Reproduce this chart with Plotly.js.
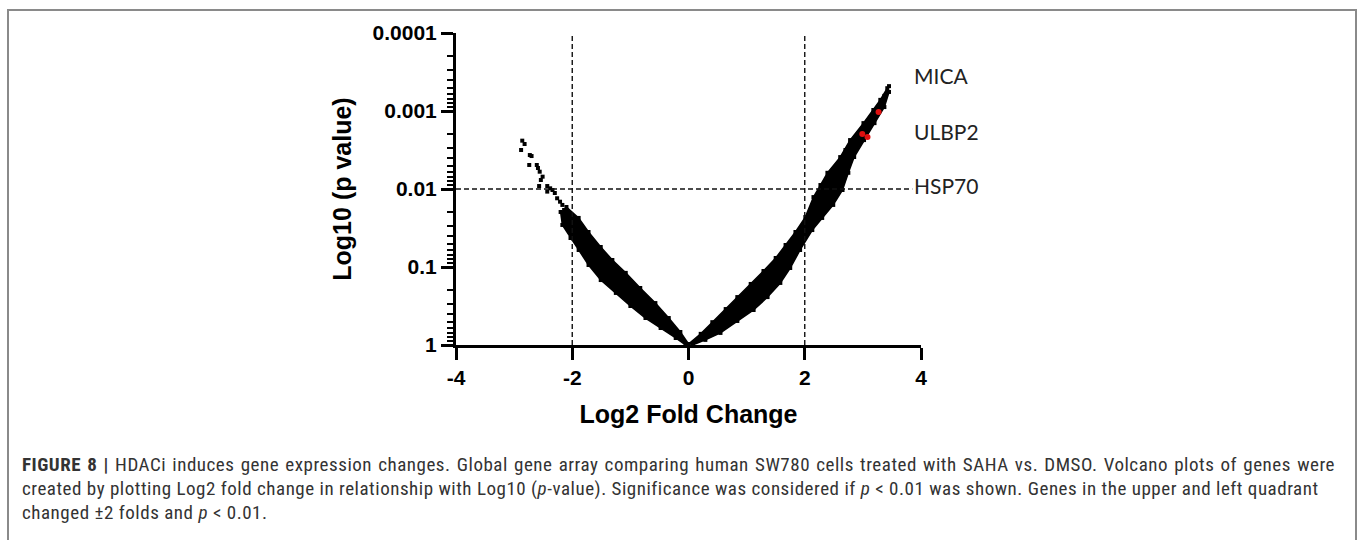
<!DOCTYPE html>
<html>
<head>
<meta charset="utf-8">
<script src="https://cdn.plot.ly/plotly-3.0.1.min.js"></script>
<style>
  html, body { margin:0; padding:0; background:#fff; width:1358px; height:540px; overflow:hidden; }
  #frame { position:absolute; left:7px; top:9px; width:1350px; height:700px; box-sizing:border-box; border:2px solid #8a8a8a; }
  #chart { position:absolute; left:0; top:0; width:1358px; height:540px; }
  #caption { position:absolute; left:22px; top:453px; width:1313px; color:#333;
    font-family:"Roboto Condensed","Liberation Sans Narrow","DejaVu Sans Condensed","Liberation Sans",sans-serif;
    font-size:19px; letter-spacing:0.52px; line-height:24px; }
  #caption .j { text-align:justify; text-align-last:justify; }
  #caption .l { white-space:nowrap; }
</style>
</head>
<body>
<div id="frame"></div>
<div id="chart"></div>
<div id="caption">
  <div class="j"><b>FIGURE 8 |</b> HDACi induces gene expression changes. Global gene array comparing human SW780 cells treated with SAHA vs. DMSO. Volcano plots of genes were</div>
  <div class="l">created by plotting Log2 fold change in relationship with Log10 (<i>p</i>-value). Significance was considered if <i>p</i> &lt; 0.01 was shown. Genes in the upper and left quadrant</div>
  <div class="l">changed ±2 folds and <i>p</i> &lt; 0.01.</div>
</div>
<script>
// ---- data ----
// right branch (up-regulated): dense band, upper/inner edge (vertex -> tip)
const rightUpperX = [0.00, 0.21, 0.41, 0.64, 0.84, 1.07, 1.29, 1.50, 1.67, 1.84, 2.01, 2.15, 2.27, 2.39, 2.61, 2.78, 3.01, 3.18, 3.30, 3.42];
const rightUpperP = [0.97, 0.72, 0.51, 0.346, 0.243, 0.165, 0.1125, 0.0767, 0.0522, 0.0356, 0.0229, 0.0127, 0.0089, 0.0062, 0.0039, 0.00236, 0.00143, 0.00097, 0.00072, 0.00051];
// right branch: lower/outer edge (tip -> vertex)
const rightLowerX = [3.45, 3.37, 3.20, 3.02, 2.85, 2.75, 2.65, 2.49, 2.30, 2.13, 1.92, 1.75, 1.58, 1.36, 1.12, 0.84, 0.55, 0.29, 0.07];
const rightLowerP = [0.00057, 0.00089, 0.00143, 0.00236, 0.00389, 0.0062, 0.0103, 0.016, 0.0235, 0.0336, 0.0605, 0.103, 0.16, 0.243, 0.356, 0.492, 0.70, 0.86, 1.0];
// left branch (down-regulated): upper/inner edge (top -> vertex)
const leftUpperX = [-2.10, -1.89, -1.72, -1.51, -1.31, -1.08, -0.83, -0.57, -0.34, -0.14, 0.00];
const leftUpperP = [0.017, 0.0235, 0.0356, 0.0554, 0.0813, 0.119, 0.186, 0.29, 0.451, 0.681, 0.97];
// left branch: lower/outer edge (vertex -> top)
const leftLowerX = [-0.05, -0.22, -0.48, -0.74, -1.00, -1.25, -1.51, -1.72, -1.89, -2.03, -2.17, -2.20];
const leftLowerP = [1.0, 0.813, 0.605, 0.451, 0.316, 0.215, 0.147, 0.0942, 0.0605, 0.0425, 0.0289, 0.0197];
// sparse genes at the left tip
const leftTipX = [-2.86, -2.82, -2.88, -2.73, -2.70, -2.74, -2.61, -2.59, -2.56, -2.51, -2.54, -2.57, -2.43, -2.38, -2.34, -2.43, -2.30, -2.26, -2.21, -2.17, -2.14, -2.11];
const leftTipP = [0.0024, 0.00265, 0.00316, 0.00367, 0.00378, 0.00492, 0.00492, 0.00538, 0.0060, 0.00695, 0.00767, 0.00916, 0.00916, 0.0098, 0.0103, 0.0108, 0.01125, 0.01315, 0.01455, 0.016, 0.0186, 0.0215];
// sparse genes at the right tip
const rightTipX = [2.70, 2.82, 2.90, 3.06, 3.13, 3.23, 3.32, 3.37, 3.45];
const rightTipP = [0.00316, 0.00273, 0.00203, 0.00165, 0.00123, 0.00103, 0.00079, 0.00064, 0.00048];
// highlighted genes
const geneNames = ['MICA', 'ULBP2', 'HSP70'];
const geneX = [3.27, 2.99, 3.08];
const geneP = [0.00103, 0.00197, 0.00216];
// label placement (log10 p) for gene names
const geneLabelLogP = [-3.46, -2.74, -2.05];
// thresholds
const foldThresholds = [-2, 2];
const pThreshold = 0.01;
// axes
const xTickVals = [-4, -2, 0, 2, 4];
const xTickText = ['-4', '-2', '0', '2', '4'];
const yTickVals = [1, 0.1, 0.01, 0.001, 0.0001];
const yTickText = ['1', '0.1', '0.01', '0.001', '0.0001'];

// minor ticks 2..9 in each decade
const minorVals = [];
[0.0001, 0.001, 0.01, 0.1].forEach(d => { for (let k = 2; k <= 9; k++) minorVals.push(+(d * k).toPrecision(3)); });

const black = '#000';
const traces = [
  { x: rightUpperX.concat(rightLowerX), y: rightUpperP.concat(rightLowerP), mode: 'lines', fill: 'toself',
    fillcolor: black, line: { color: black, width: 1.5 }, hoverinfo: 'skip' },
  { x: leftUpperX.concat(leftLowerX), y: leftUpperP.concat(leftLowerP), mode: 'lines', fill: 'toself',
    fillcolor: black, line: { color: black, width: 1.5 }, hoverinfo: 'skip' },
  { x: rightUpperX.concat(rightLowerX, leftUpperX, leftLowerX, rightTipX),
    y: rightUpperP.concat(rightLowerP, leftUpperP, leftLowerP, rightTipP),
    mode: 'markers', marker: { symbol: 'square', size: 4, color: black } },
  { x: leftTipX, y: leftTipP, mode: 'markers', marker: { symbol: 'square', size: 4, color: black } },
  { x: geneX, y: geneP, text: geneNames, mode: 'markers', marker: { size: 6, color: '#e01010' } }
];

const tickFont = { family: 'Liberation Sans, Arial, sans-serif', size: 21, color: black, weight: 'bold' };
const titleFont = { family: 'Liberation Sans, Arial, sans-serif', size: 25, color: black, weight: 'bold' };

const shapes = foldThresholds.map(v => ({ type: 'line', xref: 'x', yref: 'y', x0: v, x1: v, y0: 1, y1: 0.0001,
  line: { color: '#111', width: 1.4, dash: '5px,3px' } }));
shapes.push({ type: 'line', xref: 'x', yref: 'y', x0: -4, x1: 3.85, y0: pThreshold, y1: pThreshold,
  line: { color: '#111', width: 1.4, dash: '5px,3px' } });

const annotations = geneNames.map((g, i) => ({ x: 3.85, y: geneLabelLogP[i], xref: 'x', yref: 'y', text: g,
  showarrow: false, xanchor: 'left', yanchor: 'middle', font: { family: 'Lato, Open Sans, sans-serif', size: 21, color: '#222' } }));

const layout = {
  width: 1358, height: 540,
  margin: { l: 456, r: 437, t: 33, b: 195 },
  paper_bgcolor: 'rgba(0,0,0,0)', plot_bgcolor: 'rgba(0,0,0,0)',
  showlegend: false,
  xaxis: { range: [-4, 4], tickmode: 'array', tickvals: xTickVals, ticktext: xTickText,
    ticks: 'outside', ticklen: 12, tickwidth: 3, tickcolor: black, showline: true, linewidth: 3, linecolor: black,
    showgrid: false, zeroline: false, tickfont: tickFont, automargin: false,
    title: { text: 'Log2 Fold Change', font: titleFont, standoff: 18 } },
  yaxis: { type: 'log', range: [0, -4], tickmode: 'array', tickvals: yTickVals, ticktext: yTickText,
    ticks: 'outside', ticklen: 12, tickwidth: 3, tickcolor: black, showline: true, linewidth: 3, linecolor: black,
    showgrid: false, zeroline: false, tickfont: tickFont, automargin: false,
    minor: { tickmode: 'array', tickvals: minorVals, ticks: 'outside', ticklen: 6, tickwidth: 2, tickcolor: black, showgrid: false },
    title: { text: 'Log10 (p value)', font: titleFont, standoff: 14 } },
  shapes: shapes,
  annotations: annotations
};

Plotly.newPlot('chart', traces, layout, { staticPlot: true, displayModeBar: false });
</script>
</body>
</html>
